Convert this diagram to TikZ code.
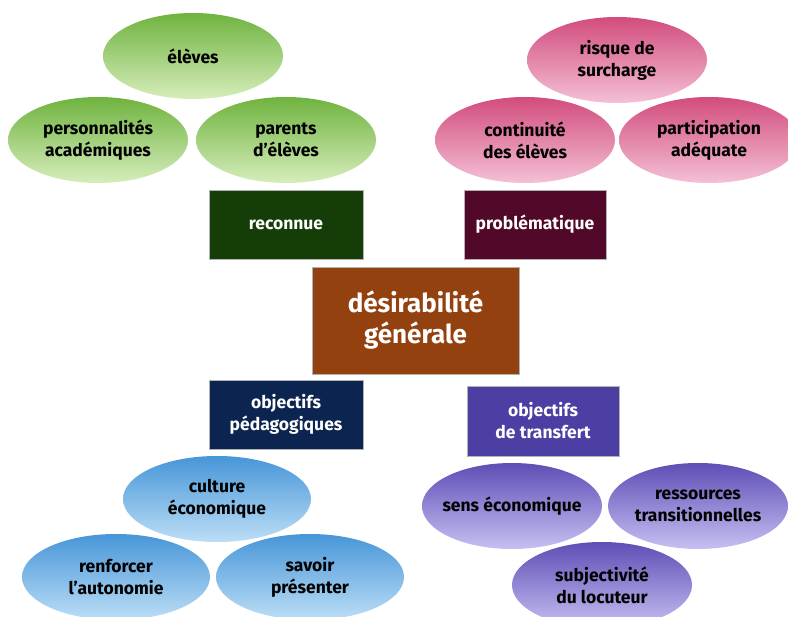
\documentclass[tikz,border=0pt]{standalone}
\usepackage{fontspec}
\setmainfont{Fira Sans}
\usetikzlibrary{shapes.geometric}
\definecolor{gtop}{HTML}{6FB33F}\definecolor{gbot}{HTML}{D6EDBB}
\definecolor{ptop}{HTML}{D24C7E}\definecolor{pbot}{HTML}{F4C0D6}
\definecolor{btop}{HTML}{4796D8}\definecolor{bbot}{HTML}{BCDEF6}
\definecolor{vtop}{HTML}{5E4EB6}\definecolor{vbot}{HTML}{C6C0F2}
\definecolor{cgreen}{HTML}{143D07}\definecolor{cplum}{HTML}{520829}
\definecolor{cbrown}{HTML}{93410E}\definecolor{cnavy}{HTML}{0C2550}
\definecolor{cviolet}{HTML}{4B3FA3}
\tikzset{
  oval/.style={ellipse, inner ysep=0pt, inner xsep=-20pt, minimum width=180pt, minimum height=86pt,
    align=center, font=\fontsize{17.5}{22}\selectfont\bfseries, text=black},
  goval/.style={oval, top color=gtop, bottom color=gbot},
  poval/.style={oval, top color=ptop, bottom color=pbot},
  boval/.style={oval, top color=btop, bottom color=bbot},
  voval/.style={oval, top color=vtop, bottom color=vbot},
  box/.style={rectangle, inner sep=0pt, align=center, text=white,
    font=\fontsize{17.5}{22}\selectfont\bfseries, draw=gray!60, line width=0.4pt},
}
\begin{document}
\begin{tikzpicture}[x=1pt,y=-1pt]
\useasboundingbox (0,0) rectangle (788,617);
% green
\node[goval] (eleves) at (193,56) {élèves};
\node[goval] (perso) at (98,140) {personnalités\\académiques};
\node[goval] (parents) at (286,140) {parents\\d’élèves};
% pink
\node[poval] (risque) at (617,60) {risque de\\surcharge};
\node[poval] (conti) at (525,140) {continuité\\des élèves};
\node[poval] (partic) at (709,140) {participation\\adéquate};
% boxes
\node[box, fill=cgreen, minimum width=154pt, minimum height=69pt] (reconnue) at (286,224.5) {reconnue};
\node[box, fill=cplum, minimum width=142pt, minimum height=69pt] (proble) at (535,224.5) {problématique};
\node[box, fill=cbrown, minimum width=207pt, minimum height=107pt,
  font=\fontsize{26}{31}\selectfont\bfseries] (desir) at (415.5,320.5) {désirabilité\\générale};
\node[box, fill=cnavy, minimum width=154pt, minimum height=69pt] (objped) at (286,414.5) {objectifs\\pédagogiques};
\node[box, fill=cviolet, minimum width=152pt, minimum height=70pt] (objtr) at (543,421) {objectifs\\de transfert};
% blue
\node[boval, minimum width=188pt] (culture) at (217,499) {culture\\économique};
\node[boval, minimum width=188pt] (renf) at (116,577) {renforcer\\l’autonomie};
\node[boval, minimum width=188pt] (savoir) at (310,577) {savoir\\présenter};
% violet
\node[voval] (sens) at (512,506) {sens économique};
\node[voval] (ress) at (698,506) {ressources\\transitionnelles};
\node[voval] (subj) at (602,585) {subjectivité\\du locuteur};
\end{tikzpicture}
\end{document}
